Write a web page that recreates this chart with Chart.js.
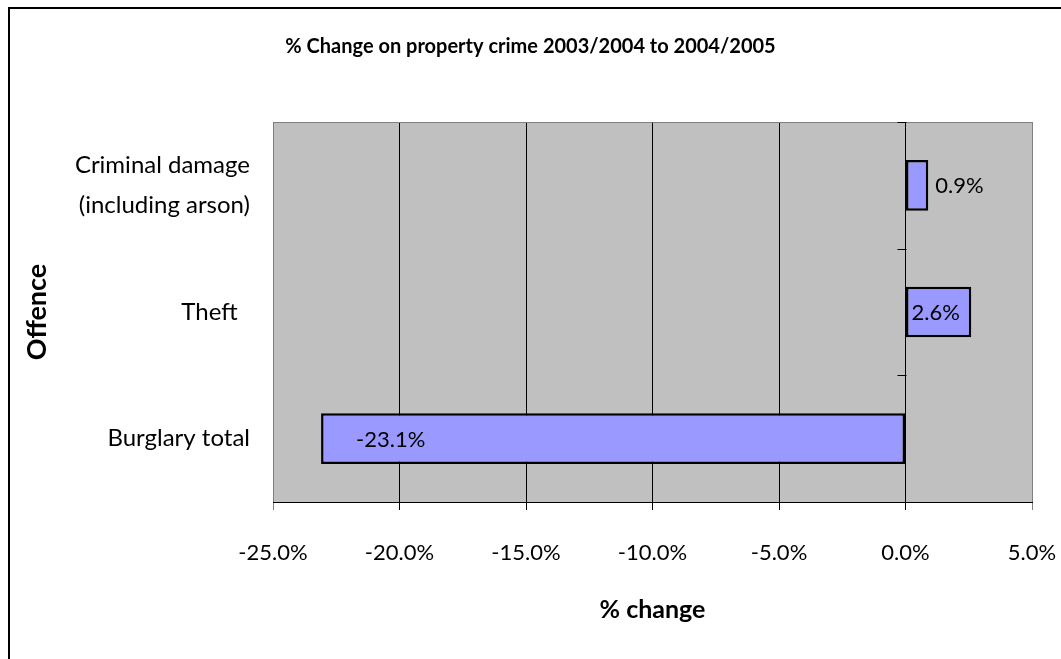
<!DOCTYPE html>
<html>
<head>
<meta charset="utf-8">
<title>% Change on property crime</title>
<script src="https://cdn.jsdelivr.net/npm/chart.js@4"></script>
<style>
  html, body { margin: 0; padding: 0; background: #fff; }
  canvas { display: block; }
</style>
</head>
<body>
<canvas id="crimeChart" width="1061" height="659"></canvas>
<script>
// data (top to bottom)
const offences = [['Criminal damage', '(including arson)'], 'Theft  ', 'Burglary total'];
const pctChange = [0.9, 2.6, -23.1];
const xTicks = { min: -25, max: 5, step: 5 };
// where each value label sits relative to its bar
const labelModes = ['outsideEnd', 'center', 'insideEnd'];

const fontFamily = 'Lato, "Open Sans", sans-serif';

// white page, outer frame lines and grey plot background
const backdrop = {
    id: 'backdrop',
    beforeDraw(chart) {
        const { ctx, chartArea: a } = chart;
        ctx.save();
        ctx.fillStyle = '#ffffff';
        ctx.fillRect(0, 0, chart.width, chart.height);
        ctx.strokeStyle = '#000000';
        ctx.lineWidth = 2;
        ctx.beginPath();
        ctx.moveTo(chart.width, 8);
        ctx.lineTo(9, 8);
        ctx.lineTo(9, chart.height);
        ctx.stroke();
        ctx.fillStyle = '#c0c0c0';
        ctx.fillRect(a.left, a.top, a.right - a.left, a.bottom - a.top);
        ctx.restore();
    },
    afterDatasetsDraw(chart) {
        const { ctx, chartArea: a, scales } = chart;
        ctx.save();
        // grey top edge of plot
        ctx.strokeStyle = '#808080';
        ctx.lineWidth = 1;
        ctx.beginPath();
        ctx.moveTo(a.left, a.top + 0.5);
        ctx.lineTo(a.right, a.top + 0.5);
        ctx.stroke();
        // category tick marks on the zero line
        const x0 = Math.round(scales.x.getPixelForValue(0)) + 0.5;
        const half = (scales.y.getPixelForValue(1) - scales.y.getPixelForValue(0)) / 2;
        ctx.strokeStyle = '#000000';
        ctx.beginPath();
        for (let i = 0; i <= offences.length; i++) {
            const y = Math.round(scales.y.getPixelForValue(i) - half) + 0.5;
            ctx.moveTo(x0 - 9, y);
            ctx.lineTo(x0, y);
        }
        ctx.stroke();
        // value labels
        ctx.font = '22px ' + fontFamily;
        ctx.fillStyle = '#000000';
        ctx.textBaseline = 'middle';
        chart.getDatasetMeta(0).data.forEach((bar, i) => {
            const txt = pctChange[i].toFixed(1) + '%';
            const neg = pctChange[i] < 0;
            const mode = labelModes[i];
            let x;
            if (mode === 'center') {
                ctx.textAlign = 'center';
                x = (bar.x + bar.base) / 2 - 3;
            } else if (mode === 'outsideEnd') {
                ctx.textAlign = neg ? 'right' : 'left';
                x = bar.x + (neg ? -7 : 7);
            } else {
                ctx.textAlign = neg ? 'left' : 'right';
                x = bar.x + (neg ? 35 : -35);
            }
            ctx.fillText(txt, x, bar.y + 1);
        });
        ctx.restore();
    }
};

const ctx = document.getElementById('crimeChart').getContext('2d');
const chart = new Chart(ctx, {
    type: 'bar',
    data: {
        labels: offences,
        datasets: [{
            data: pctChange,
            backgroundColor: '#9999ff',
            borderColor: '#000000',
            borderWidth: 2.5,
            borderSkipped: false,
            barPercentage: 0.4,
            categoryPercentage: 1
        }]
    },
    options: {
        responsive: false,
        animation: false,
        indexAxis: 'y',
        layout: { padding: 0 },
        plugins: {
            legend: { display: false },
            tooltip: { enabled: false },
            title: {
                display: true,
                text: '% Change on property crime 2003/2004 to 2004/2005',
                color: '#000000',
                font: { family: fontFamily, size: 20, weight: 'bold', lineHeight: 1.2 },
                padding: { top: 35, bottom: 63 }
            }
        },
        scales: {
            x: {
                min: xTicks.min,
                max: xTicks.max,
                afterFit(scale) {
                    scale.height = 157;
                    scale.paddingLeft = 0;
                    scale.paddingRight = 29;
                },
                ticks: {
                    stepSize: xTicks.step,
                    color: '#000000',
                    padding: 30,
                    font: { family: fontFamily, size: 22 },
                    callback: v => v.toFixed(1) + '%'
                },
                grid: {
                    color: c => (c.index === 0 || c.index === 6) ? '#808080' : '#000000',
                    lineWidth: 1,
                    tickLength: 8
                },
                border: { display: true, color: '#000000', width: 1 },
                title: {
                    display: true,
                    text: '% change',
                    color: '#000000',
                    font: { family: fontFamily, size: 25, weight: 'bold', lineHeight: 1.2 },
                    padding: { top: 0, bottom: 34 }
                }
            },
            y: {
                afterFit(scale) { scale.width = 273; },
                ticks: {
                    color: '#000000',
                    padding: 23,
                    font: { family: fontFamily, size: 24, lineHeight: 1.67 }
                },
                grid: { display: false, drawTicks: false },
                border: { display: false },
                title: {
                    display: true,
                    text: 'Offence',
                    color: '#000000',
                    font: { family: fontFamily, size: 27, weight: 'bold', lineHeight: 1.2 },
                    padding: { top: 21, bottom: 0 }
                }
            }
        }
    },
    plugins: [backdrop]
});
</script>
</body>
</html>
